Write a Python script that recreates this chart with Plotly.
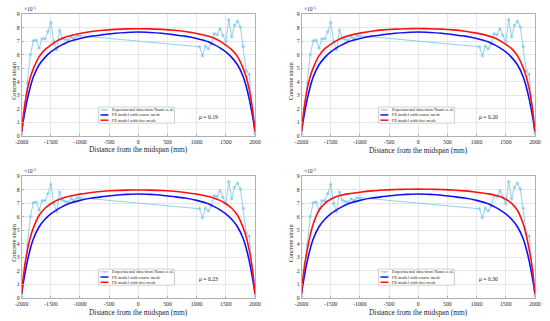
import plotly.graph_objects as go

# ---------------- data ----------------
EXP_X = [-2000, -1900, -1850, -1800, -1750, -1700, -1650, -1600, -1550, -1500,
         -1450, -1400, -1350, -1300, -1250, -1200, -1150, -1100, -1050, -1000,
         1050, 1100, 1150, 1200, 1250, 1300, 1350, 1400, 1450, 1500,
         1550, 1600, 1650, 1700, 1750, 1800, 1850, 1900, 2000]
EXP_Y = [0.1, 3.9, 6.0, 7.03, 7.07, 6.48, 7.17, 7.18, 7.7, 8.38,
         6.98, 6.37, 7.8, 7.2, 7.12, 7.07, 7.3, 7.2, 7.38, 7.4,
         6.58, 5.92, 6.62, 6.43, 6.8, 7.55, 7.48, 7.9, 7.43, 6.95,
         8.58, 7.32, 8.17, 8.46, 8.04, 6.6, 4.8, 4.55, 0.15]

FE_X = [-2000, -1980, -1950, -1900, -1850, -1800, -1700, -1600, -1500, -1400,
        -1300, -1200, -1000, -800, -600, -400, -200, 0, 200, 400, 600, 800,
        1000, 1200, 1300, 1400, 1500, 1600, 1700, 1800, 1850, 1900, 1950, 1980, 2000]

COARSE = [0.3, 0.9, 1.65, 2.75, 3.65, 4.35, 5.25, 5.8, 6.2, 6.5,
          6.74, 6.95, 7.2, 7.37, 7.48, 7.58, 7.64, 7.67, 7.64, 7.58, 7.48, 7.37,
          7.2, 6.95, 6.74, 6.5, 6.2, 5.8, 5.25, 4.35, 3.65, 2.75, 1.65, 0.9, 0.3]

FINE_019 = [0.3, 1.2, 2.2, 3.45, 4.35, 4.95, 5.85, 6.37, 6.7, 7.0,
            7.22, 7.36, 7.57, 7.71, 7.81, 7.87, 7.91, 7.92, 7.91, 7.87, 7.81, 7.71,
            7.57, 7.36, 7.22, 7.0, 6.7, 6.37, 5.85, 4.95, 4.35, 3.45, 2.2, 1.2, 0.3]
FINE_020 = [0.3, 1.2, 2.25, 3.5, 4.4, 5.02, 5.93, 6.45, 6.76, 7.04,
            7.25, 7.39, 7.59, 7.73, 7.83, 7.89, 7.92, 7.93, 7.92, 7.89, 7.83, 7.73,
            7.59, 7.39, 7.25, 7.04, 6.76, 6.45, 5.93, 5.02, 4.4, 3.5, 2.25, 1.2, 0.3]
FINE_023 = [0.3, 1.25, 2.3, 3.55, 4.5, 5.15, 6.1, 6.62, 6.95, 7.2,
            7.36, 7.48, 7.66, 7.78, 7.87, 7.93, 7.96, 7.97, 7.96, 7.93, 7.87, 7.78,
            7.66, 7.48, 7.36, 7.2, 6.95, 6.62, 6.1, 5.15, 4.5, 3.55, 2.3, 1.25, 0.3]
FINE_030 = [0.3, 1.3, 2.35, 3.6, 4.65, 5.45, 6.47, 6.98, 7.28, 7.48,
            7.6, 7.68, 7.8, 7.9, 7.97, 8.0, 8.02, 8.03, 8.02, 8.0, 7.97, 7.9,
            7.8, 7.68, 7.6, 7.48, 7.28, 6.98, 6.47, 5.45, 4.65, 3.6, 2.35, 1.3, 0.3]

MU_LABELS = ["0.19", "0.20", "0.23", "0.30"]
FINE_SERIES = [FINE_019, FINE_020, FINE_023, FINE_030]

X_TICKS = [-2000, -1500, -1000, -500, 0, 500, 1000, 1500, 2000]
X_TICKTEXT = ["-2000", "-1500", "-1000", "-500", "0", "500", "1000", "1500", "2000"]
Y_TICKS = [0, 1, 2, 3, 4, 5, 6, 7, 8, 9]

LEGEND_NAMES = ["Experimental data from Nanni et al.",
                "FE model with coarse mesh", "FE model with fine mesh"]
X_TITLE = "Distance from the midspan (mm)"
Y_TITLE = "Concrete strain"

# ---------------- style ----------------
FONT = "Liberation Serif"
CYAN = "#84CBEA"
BLUE = "#1010FF"
RED = "#FF1010"
GRID = "#E6E6E6"
AXLINE = "#B0B0B0"
TXT = "#262626"

X_DOMAINS = [[0.0273, 0.4618], [0.5485, 0.9831], [0.0273, 0.4618], [0.5485, 0.9831]]
Y_DOMAINS = [[0.5785, 0.9648], [0.5785, 0.9648], [0.0639, 0.4508], [0.0639, 0.4508]]
XTITLE_Y = [-0.112, -0.118, -0.118, -0.118]
YTITLE_X = [-0.038, -0.049, -0.038, -0.049]

fig = go.Figure()
layout = dict(
    width=550, height=321,
    margin=dict(l=0, r=0, t=0, b=0),
    paper_bgcolor="white", plot_bgcolor="white",
    showlegend=False,
    font=dict(family=FONT, color=TXT, size=6),
)
annotations = []
shapes = []

for i in range(4):
    n = i + 1
    xa = "x" if n == 1 else f"x{n}"
    ya = "y" if n == 1 else f"y{n}"
    fig.add_trace(go.Scatter(
        x=EXP_X, y=EXP_Y, mode="lines+markers", xaxis=xa, yaxis=ya,
        line=dict(color=CYAN, width=0.9),
        marker=dict(symbol="asterisk-open", size=3, color=CYAN, line=dict(color=CYAN, width=0.7)),
        name=LEGEND_NAMES[0]))
    fig.add_trace(go.Scatter(
        x=FE_X, y=COARSE, mode="lines", xaxis=xa, yaxis=ya,
        line=dict(color=BLUE, width=1.6, shape="spline", smoothing=0.8),
        name=LEGEND_NAMES[1]))
    fig.add_trace(go.Scatter(
        x=FE_X, y=FINE_SERIES[i], mode="lines", xaxis=xa, yaxis=ya,
        line=dict(color=RED, width=1.6, shape="spline", smoothing=0.8),
        name=LEGEND_NAMES[2]))

    layout["xaxis" if n == 1 else f"xaxis{n}"] = dict(
        domain=X_DOMAINS[i], anchor=ya, range=[-2000, 2000],
        tickvals=X_TICKS, ticktext=X_TICKTEXT,
        tickfont=dict(family=FONT, size=5.8, color=TXT),
        showgrid=True, gridcolor=GRID, gridwidth=0.6, zeroline=False,
        showline=True, mirror=True, linecolor=AXLINE, linewidth=0.7,
        ticks="inside", ticklen=2, tickcolor=AXLINE, tickwidth=0.6)
    layout["yaxis" if n == 1 else f"yaxis{n}"] = dict(
        domain=Y_DOMAINS[i], anchor=xa, range=[0, 9],
        tickvals=Y_TICKS,
        tickfont=dict(family=FONT, size=5.8, color=TXT),
        showgrid=True, gridcolor=GRID, gridwidth=0.6, zeroline=False,
        showline=True, mirror=True, linecolor=AXLINE, linewidth=0.7,
        ticks="inside", ticklen=2, tickcolor=AXLINE, tickwidth=0.6)

    xd = f"{xa} domain"
    yd = f"{ya} domain"
    annotations += [
        dict(text=X_TITLE, xref=xd, yref=yd, x=0.5, y=XTITLE_Y[i],
             xanchor="center", yanchor="middle", showarrow=False,
             font=dict(family=FONT, size=7.4, color=TXT)),
        dict(text=Y_TITLE, xref=xd, yref=yd, x=YTITLE_X[i], y=0.45,
             textangle=-90, xanchor="center", yanchor="middle", showarrow=False,
             font=dict(family=FONT, size=6.2, color=TXT)),
        dict(text="×10<sup>-5</sup>", xref=xd, yref=yd, x=0.0, y=1.045,
             xanchor="left", yanchor="middle", showarrow=False,
             font=dict(family=FONT, size=5.5, color=TXT)),
        dict(text=f"<i>μ</i> = {MU_LABELS[i]}", xref=xd, yref=yd, x=0.8, y=0.157,
             xanchor="center", yanchor="middle", showarrow=False,
             font=dict(family=FONT, size=5.7, color=TXT)),
    ]
    # legend box
    shapes.append(dict(type="rect", xref=xd, yref=yd, x0=0.33, x1=0.655, y0=0.104, y1=0.236,
                       line=dict(color="#A0A0A0", width=0.5), fillcolor="white", layer="above"))
    rows = [0.214, 0.171, 0.128]
    cols = [CYAN, BLUE, RED]
    widths = [0.9, 1.5, 1.5]
    for r, c, w, name in zip(rows, cols, widths, LEGEND_NAMES):
        shapes.append(dict(type="line", xref=xd, yref=yd, x0=0.338, x1=0.372, y0=r, y1=r,
                           line=dict(color=c, width=w), layer="above"))
        annotations.append(dict(text=name, xref=xd, yref=yd, x=0.377, y=r,
                                xanchor="left", yanchor="middle", showarrow=False,
                                font=dict(family=FONT, size=4.3, color=TXT)))
    annotations.append(dict(text="*", xref=xd, yref=yd, x=0.355, y=rows[0] - 0.012,
                            xanchor="center", yanchor="middle", showarrow=False,
                            font=dict(family=FONT, size=6, color=CYAN)))

layout["annotations"] = annotations
layout["shapes"] = shapes
fig.update_layout(**layout)
fig.write_html("out.html",
               config={"displayModeBar": False},
               post_script="document.body.style.margin='0px';document.body.style.padding='0px';")
